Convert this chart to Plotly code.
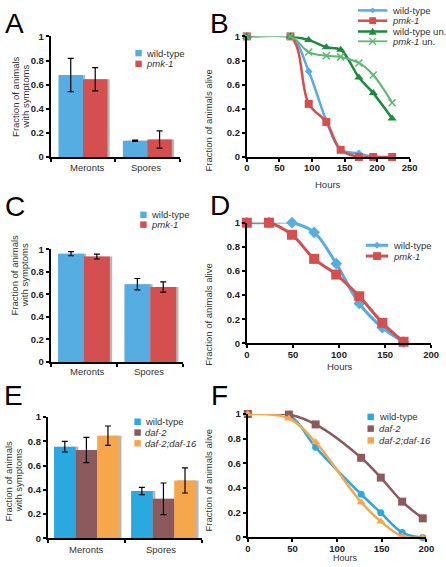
import plotly.graph_objects as go

W, H = 446, 567

# ---------------- data ----------------
categories = ["Meronts", "Spores"]

# Panel A
a_wt = [0.68, 0.135]
a_wt_err = [0.138, 0.005]
a_pmk = [0.645, 0.145]
a_pmk_err = [0.096, 0.072]

# Panel C
c_wt = [0.96, 0.69]
c_wt_err = [0.018, 0.05]
c_pmk = [0.935, 0.665]
c_pmk_err = [0.022, 0.045]

# Panel E
e_wt = [0.755, 0.39]
e_wt_err = [0.043, 0.03]
e_daf2 = [0.728, 0.326]
e_daf2_err = [0.104, 0.13]
e_dd = [0.845, 0.477]
e_dd_err = [0.08, 0.103]

# Panel B
b_hours = [0, 67, 95, 122, 144, 172, 194, 223]
b_wt = [1.0, 1.0, 0.71, 0.30, 0.06, 0.03, 0.0, 0.0]
b_pmk = [1.0, 1.0, 0.44, 0.29, 0.06, 0.0, 0.0, 0.0]
b_wt_un = [1.0, 1.0, 0.97, 0.91, 0.89, 0.66, 0.53, 0.32]
b_pmk_un = [1.0, 1.0, 0.87, 0.84, 0.83, 0.78, 0.68, 0.45]
b_ticks = [0, 50, 100, 150, 200, 250]

# Panel D
d_hours = [0, 24, 49, 73, 97, 122, 147, 170]
d_wt = [1.0, 1.0, 1.0, 0.92, 0.66, 0.33, 0.13, 0.01]
d_pmk = [1.0, 1.0, 0.90, 0.70, 0.57, 0.39, 0.17, 0.013]

# Panel F
f_hours = [0, 46, 76, 127, 149, 173, 196]
f_wt = [1.0, 0.99, 0.73, 0.35, 0.20, 0.04, 0.0]
f_daf2 = [1.0, 0.995, 0.915, 0.645, 0.485, 0.29, 0.155]
f_dd = [1.0, 0.963, 0.77, 0.285, 0.13, 0.01, 0.0]
df_ticks = [0, 50, 100, 150, 200]

y_ticks = [0, 0.2, 0.4, 0.6, 0.8, 1]

# ---------------- styles ----------------
BLUE = "#55ade1"
RED = "#d44f50"
DGREEN = "#1f8a3e"
LGREEN = "#5cb96f"
E_BLUE = "#2aa9e0"
E_BROWN = "#8c5a5c"
E_ORANGE = "#f6a64b"
FONT = "Liberation Sans, Arial, sans-serif"
TXT = "#333333"


def X(p):
    return p / W


def Y(p):
    return 1 - p / H


fig = go.Figure()

domains = {
    1: ((49, 181), (31, 154)),
    2: ((250, 417), (31, 154)),
    3: ((49, 185), (248, 363)),
    4: ((250, 439), (221, 344)),
    5: ((46, 204), (419, 543)),
    6: ((251, 434), (416, 542)),
}

layout_axes = {}
for i, ((x0, x1), (y0, y1)) in domains.items():
    s = "" if i == 1 else str(i)
    common = dict(showline=True, linecolor="black", linewidth=2, ticks="outside",
                  ticklen=3, tickwidth=1.5, tickcolor="black", showgrid=False,
                  zeroline=False, fixedrange=True,
                  tickfont=dict(family=FONT, size=9.5, color="#222", weight="bold"))
    xa = dict(common, domain=[X(x0), X(x1)], anchor="y" + s)
    ya = dict(common, domain=[Y(y1), Y(y0)], anchor="x" + s,
              range=[0, 1], tickvals=y_ticks, ticktext=["0", "0.2", "0.4", "0.6", "0.8", "1"])
    if i in (1, 3, 5):
        xa.update(range=[-0.5, 1.5], tickvals=[-0.5, 0.5, 1.5], ticktext=["", "", ""])
    elif i == 2:
        xa.update(range=[0, 250], tickvals=b_ticks, ticktext=[str(t) for t in b_ticks],
                  ticklabelstandoff=-2)
    else:
        xa.update(range=[0, 200], tickvals=df_ticks, ticktext=[str(t) for t in df_ticks],
                  ticklabelstandoff=-2)
    layout_axes["xaxis" + s] = xa
    layout_axes["yaxis" + s] = ya


def add_bars(ax, series, width, offsets):
    s = "" if ax == 1 else str(ax)
    xs = list(range(len(categories)))
    # shadows
    for (vals, errs, col), off in zip(series, offsets):
        fig.add_trace(go.Bar(x=xs, y=vals, width=width, offset=off + 0.035,
                             marker=dict(color="rgba(110,110,110,0.5)", line=dict(width=0)),
                             xaxis="x" + s, yaxis="y" + s, showlegend=False, hoverinfo="skip"))
    for (vals, errs, col), off in zip(series, offsets):
        fig.add_trace(go.Bar(x=xs, y=vals, width=width, offset=off,
                             marker=dict(color=col, line=dict(width=0)),
                             error_y=dict(type="data", array=errs, color="black",
                                          thickness=1.2, width=3),
                             xaxis="x" + s, yaxis="y" + s, showlegend=False))


add_bars(1, [(a_wt, a_wt_err, BLUE), (a_pmk, a_pmk_err, RED)], 0.38, [-0.38, 0.0])
add_bars(3, [(c_wt, c_wt_err, BLUE), (c_pmk, c_pmk_err, RED)], 0.39, [-0.39, 0.0])
add_bars(5, [(e_wt, e_wt_err, E_BLUE), (e_daf2, e_daf2_err, E_BROWN), (e_dd, e_dd_err, E_ORANGE)],
         0.28, [-0.42, -0.14, 0.14])


def add_line(ax, xs, ys, col, symbol, size, lw, mline=None):
    s = str(ax)
    marker = dict(color=col, symbol=symbol, size=size)
    if mline:
        marker["line"] = mline
    fig.add_trace(go.Scatter(x=xs, y=ys, mode="lines+markers",
                             line=dict(color=col, width=lw, shape="spline", smoothing=1),
                             marker=marker, cliponaxis=False,
                             xaxis="x" + s, yaxis="y" + s, showlegend=False))


add_line(2, b_hours, b_wt, BLUE, "diamond", 6, 2.5)
add_line(2, b_hours, b_pmk, RED, "square", 8, 2.5)
add_line(2, b_hours, b_wt_un, DGREEN, "triangle-up", 8, 2.5)
add_line(2, b_hours, b_pmk_un, LGREEN, "x-thin", 7, 2, mline=dict(color=LGREEN, width=1.5))

add_line(4, d_hours, d_wt, BLUE, "diamond", 9, 3)
add_line(4, d_hours, d_pmk, RED, "square", 10, 3)

add_line(6, f_hours, f_wt, E_BLUE, "circle", 7, 2.5)
add_line(6, f_hours, f_daf2, E_BROWN, "square", 8, 2.5)
add_line(6, f_hours, f_dd, E_ORANGE, "triangle-up", 8, 2.5)

ann = []
shapes = []


def text(x, y, t, size=9.5, anchor="center", angle=0, color=TXT, yanchor="middle"):
    ann.append(dict(x=X(x), y=Y(y), xref="paper", yref="paper", text=t, showarrow=False,
                    xanchor=anchor, yanchor=yanchor, textangle=angle,
                    font=dict(family=FONT, size=size, color=color)))


# panel letters
for letter, (lx, ly) in {"A": (12, 18), "B": (222, 18), "C": (12, 204), "D": (222, 203),
                         "E": (11, 397), "F": (222, 397)}.items():
    text(lx, ly, letter, size=28, color="black")

# category labels
cat_pos = {1: ([87, 147], 165), 3: ([87, 150], 373), 5: ([86, 162], 554)}
for ax, (xs, yy) in cat_pos.items():
    for c, xx in zip(categories, xs):
        text(xx, yy, c, size=9.5)

# y titles
text(13, 92, "Fraction of animals", angle=-90)
text(23, 92, "with symptoms", angle=-90)
text(12, 274, "Fraction of animals", angle=-90)
text(22, 274, "with symptoms", angle=-90)
text(6, 484, "Fraction of animals", angle=-90)
text(16, 484, "with symptoms", angle=-90)
text(211, 117, "Fraction of animals alive", angle=-90)
text(211, 315, "Fraction of animals alive", angle=-90)
text(211, 484, "Fraction of animals alive", angle=-90)

# x titles
text(333, 182, "Hours")
text(346, 368, "Hours")
text(351, 563, "Hours", size=9)


def square_entry(x, y, col, label, italic=False):
    s = 3.3
    shapes.append(dict(type="rect", xref="paper", yref="paper",
                       x0=X(x - s), x1=X(x + s), y0=Y(y + s), y1=Y(y - s),
                       fillcolor=col, line=dict(width=0)))
    text(x + 6, y, f"<i>{label}</i>" if italic else label, size=9.5, anchor="left")


# legends with squares
square_entry(139, 48, BLUE, "wild-type")
square_entry(139, 59, RED, "pmk-1", True)
square_entry(144, 213, BLUE, "wild-type")
square_entry(144, 223, RED, "pmk-1", True)
square_entry(138, 424, E_BLUE, "wild-type")
square_entry(138, 435, E_BROWN, "daf-2", True)
square_entry(138, 446, E_ORANGE, "daf-2;daf-16", True)
square_entry(377, 419, E_BLUE, "wild-type")
square_entry(377, 431, E_BROWN, "daf-2", True)
square_entry(377, 443, E_ORANGE, "daf-2;daf-16", True)


def line_entry(x0, x1, y, col, sym, label, lw=2.5, size=3.5):
    shapes.append(dict(type="line", xref="paper", yref="paper", x0=X(x0), x1=X(x1),
                       y0=Y(y), y1=Y(y), line=dict(color=col, width=lw)))
    cx = (x0 + x1) / 2
    if sym == "square":
        shapes.append(dict(type="rect", xref="paper", yref="paper", x0=X(cx - size), x1=X(cx + size),
                           y0=Y(y + size), y1=Y(y - size), fillcolor=col, line=dict(width=0)))
    elif sym == "diamond":
        p = f"M {X(cx)} {Y(y - size)} L {X(cx + size)} {Y(y)} L {X(cx)} {Y(y + size)} L {X(cx - size)} {Y(y)} Z"
        shapes.append(dict(type="path", xref="paper", yref="paper", path=p, fillcolor=col, line=dict(width=0)))
    elif sym == "triangle":
        p = f"M {X(cx)} {Y(y - size)} L {X(cx + size)} {Y(y + size * 0.8)} L {X(cx - size)} {Y(y + size * 0.8)} Z"
        shapes.append(dict(type="path", xref="paper", yref="paper", path=p, fillcolor=col, line=dict(width=0)))
    elif sym == "x":
        for d in (1, -1):
            shapes.append(dict(type="line", xref="paper", yref="paper", x0=X(cx - size), x1=X(cx + size),
                               y0=Y(y - d * size), y1=Y(y + d * size), line=dict(color=col, width=1.2)))
    text(x1 + 3, y, label, size=9.5, anchor="left")


line_entry(364, 394, 4.5, BLUE, "diamond", "wild-type", size=3)
line_entry(364, 394, 15, RED, "square", "<i>pmk-1</i>", size=3.5)
line_entry(364, 394, 26, DGREEN, "triangle", "wild-type un.", size=4)
line_entry(364, 394, 36, LGREEN, "x", "<i>pmk-1</i> un.", lw=1.8, size=3.5)
line_entry(372, 395, 244, BLUE, "diamond", "wild-type", lw=3, size=3.5)
line_entry(372, 395, 255, RED, "square", "<i>pmk-1</i>", lw=3, size=4)

fig.update_layout(width=W, height=H, autosize=False, margin=dict(l=0, r=0, t=0, b=0),
                  paper_bgcolor="white", plot_bgcolor="white", barmode="overlay",
                  showlegend=False, annotations=ann, shapes=shapes, hovermode=False,
                  font=dict(family=FONT), **layout_axes)

fig.write_html("out.html", config={"displayModeBar": False},
               post_script="document.body.style.margin='0';document.body.style.overflow='hidden';")
